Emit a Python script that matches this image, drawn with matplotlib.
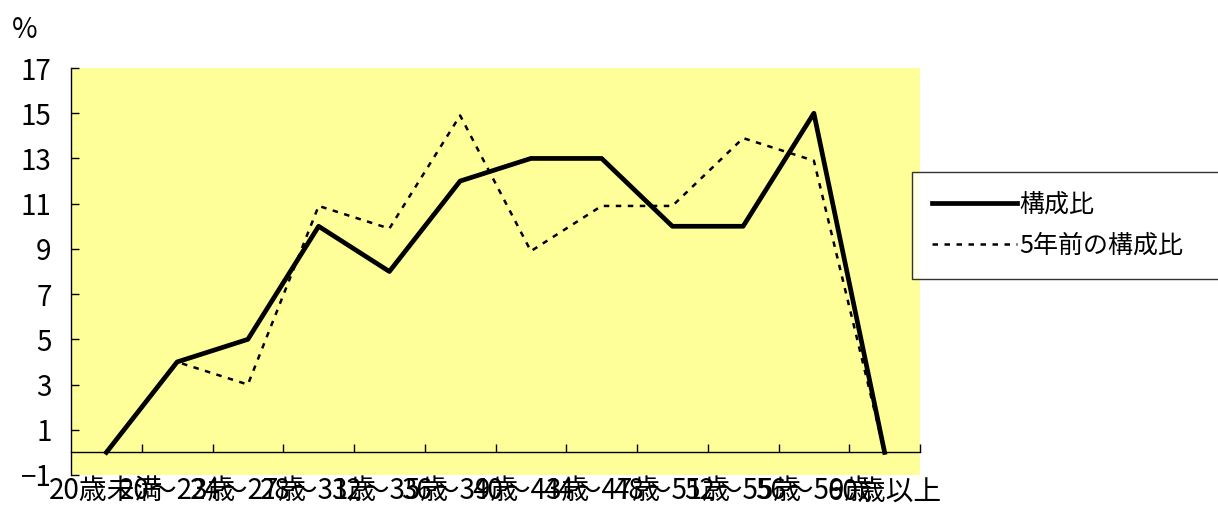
import matplotlib
matplotlib.use("Agg")
import matplotlib.pyplot as plt
from matplotlib.ticker import FixedLocator

plt.rcParams['font.family'] = ['Noto Sans CJK JP', 'DejaVu Sans']

# data
age_labels = ['20歳未満', '20～23歳', '24～27歳', '28～31歳', '32～35歳', '36～39歳',
              '40～43歳', '44～47歳', '48～51歳', '52～55歳', '56～59歳', '60歳以上']
ratio_now = [0, 4, 5, 10, 8, 12, 13, 13, 10, 10, 15, 0]
ratio_5y_ago = [0, 4.0, 3.0, 10.9, 9.9, 14.9, 8.9, 10.9, 10.9, 13.9, 12.9, 0]

fig = plt.figure(figsize=(12.18, 5.07), dpi=100)
ax = fig.add_axes([71 / 1218, 32 / 507, 849 / 1218, 407 / 507])
ax.set_facecolor('#FFFF99')

x = list(range(len(age_labels)))
ax.plot(x, ratio_now, color='black', lw=3.4, label='構成比')
ax.plot(x, ratio_5y_ago, color='black', lw=1.8, linestyle=(0, (2.2, 2.6)), label='5年前の構成比')

ax.set_xlim(-0.5, len(age_labels) - 0.5)
ax.set_ylim(-1, 17)
ax.set_yticks(range(-1, 18, 2))
ax.tick_params(axis='y', direction='in', length=6, width=1, labelsize=20, pad=14)

for s in ['top', 'right', 'bottom']:
    ax.spines[s].set_visible(False)
ax.spines['left'].set_linewidth(1)

ax.set_xticks(x)
ax.set_xticklabels(age_labels, fontsize=20)
ax.tick_params(axis='x', length=0, pad=1)

# zero line with category boundary ticks
zero_ax = ax.secondary_xaxis(1 / 18)
zero_ax.spines['bottom'].set_linewidth(1)
zero_ax.xaxis.set_major_locator(FixedLocator([i + 0.5 for i in range(len(age_labels))]))
zero_ax.tick_params(direction='in', length=6, width=1, labelbottom=False)

fig.text(12 / 1218, 1 - 30 / 507, '%', fontsize=20, va='center', ha='left')

# legend box runs off the right edge like the original
leg = fig.legend(loc='upper left',
                 bbox_to_anchor=(912 / 1218, 1 - 272 / 507, 320 / 1218, 100 / 507),
                 mode='expand', fontsize=18, frameon=True, fancybox=False, edgecolor='black',
                 handlelength=3.4, labelspacing=0.6, borderpad=0.8, handletextpad=0.1,
                 borderaxespad=0)
leg.get_frame().set_linewidth(1)

fig.savefig('out.png', dpi=100)
